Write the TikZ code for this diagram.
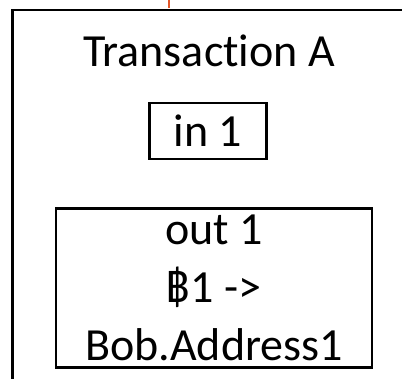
\documentclass[tikz,border=0pt]{standalone}
\usepackage{fontspec}
\setmainfont{Carlito}[Ligatures=NoCommon]
\usetikzlibrary{positioning}
\definecolor{linkorange}{RGB}{228,88,42}

\begin{document}
\begin{tikzpicture}[x=1pt, y=-1pt, line width=2.5pt, font=\fontsize{46}{58}\selectfont]
        \useasboundingbox[fill=white] (0,0) rectangle (402,379);
        % Nodes
        \node (txA) [rectangle, draw, anchor=north west, minimum width=398pt, minimum height=420pt] at (11,9) {};
        \node (title) [anchor=base] at (209,67) {Transaction A};
        \node (in1) [rectangle, draw, minimum width=117pt, minimum height=56pt, inner sep=0pt] at (208,131) {in 1};
        \node (out1) [rectangle, draw, align=center, minimum width=316pt, minimum height=159pt, inner sep=0pt] at (214,288) {out 1\\฿1 ->\\Bob.Address1};
        \coordinate (linktop) at (169,0);

        % Edges
        \draw[linkorange, line width=2pt, shorten >=1.25pt] (linktop) -- (linktop |- txA.north);
    \end{tikzpicture}
\end{document}
